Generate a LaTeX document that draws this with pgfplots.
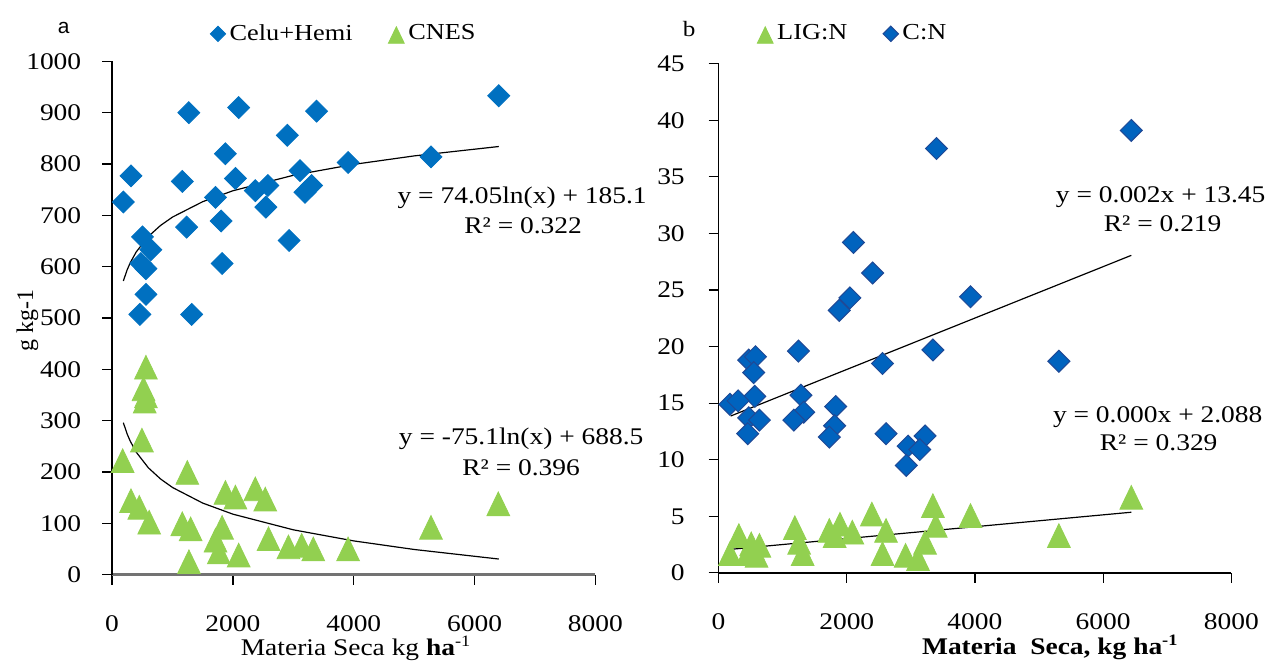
\documentclass[border=0pt]{standalone}
\usepackage{fontspec}
\setmainfont[FakeStretch=1.15]{Liberation Serif}
\newfontfamily\plainserif{Liberation Serif}
\newfontfamily\sansa{Liberation Sans}
\usepackage{pgfplots}
\pgfplotsset{compat=1.18}
\definecolor{cblue}{RGB}{0,112,192}
\definecolor{cblueb}{RGB}{0,99,190}
\definecolor{cblueedge}{RGB}{31,73,150}
\definecolor{cgreen}{RGB}{146,208,80}

\pgfplotstableread{
x y
186 726
313 777
1270 900
2095 910
3385 903
6400 933
2900 856
1876 820
1162 766
2041 772
3906 803
5278 814
3110 787
3302 758
3193 745
2578 758
2370 748
1712 735
2545 716
1234 677
1805 689
2930 651
1821 606
504 658
641 633
477 606
560 596
560 546
460 507
1317 507
}\celu

\pgfplotstableread{
x y
560 404
520 362
560 348
540 338
494 262
175 222
1245 199
313 144
450 131
614 102
1162 99
1300 89
1272 25
1876 160
2041 151
2370 167
2535 147
1821 92
1712 67
1766 44
2095 38
2589 70
2919 54
3138 57
3330 50
3906 50
5278 92
6392 138
}\cnes

\pgfplotstableread{
x y
186 572.1
250 593.9
300 607.5
400 628.8
600 658.8
800 680.1
1000 696.6
1500 726.6
2000 747.9
3000 778.0
4000 799.3
5000 815.8
6400 834.1
}\celufit

\pgfplotstableread{
x y
186 296.0
250 273.8
300 260.1
400 238.5
600 208.1
800 186.5
1000 169.7
1500 139.3
2000 117.7
3000 87.2
4000 65.6
5000 48.9
6400 30.3
}\cnesfit

\pgfplotstableread{
x y
6440 39.1
3400 37.5
2104 29.2
2403 26.5
3931 24.4
2049 24.3
1883 23.2
1246 19.6
3344 19.7
5310 18.7
2558 18.5
471 18.8
576 19.1
548 17.7
565 15.6
177 14.9
305 15.2
1285 15.7
1329 14.2
1174 13.5
1827 14.7
1811 13.0
1728 12.0
471 13.7
637 13.5
454 12.3
2613 12.3
3222 12.1
2957 11.2
3139 10.9
2929 9.5
}\cn

\pgfplotstableread{
x y
6440 6.68
5310 3.3
3931 5.07
3344 5.95
3389 4.2
3222 2.7
3112 1.26
2918 1.55
2558 1.7
2613 3.75
2392 5.2
2087 3.6
1894 4.3
1811 3.3
1728 3.75
1190 4.0
1257 2.7
1312 1.7
316 3.3
177 1.7
509 2.57
637 2.43
454 1.7
592 1.55
}\lign

\pgfplotsset{
  mystyle/.style={
    scale only axis,
    axis lines*=left,
    tick align=outside,
    major tick length=5pt,
    xmin=0,xmax=8000,
    xtick={0,2000,4000,6000,8000},
    scaled ticks=false,
    /pgf/number format/1000 sep={},
    /pgf/number format/assume math mode=true,
    ticklabel style={font=\fontsize{12}{14}\selectfont},
    xticklabel style={yshift=-12pt},
    tick style={black,line width=0.6pt},
    clip=false,
    legend image code/.code={\draw[##1,/tikz/every mark/.append style={scale=0.7}] plot coordinates {(0pt,0pt)};},
    legend style={draw=none, fill=none, inner sep=0pt,
      font=\fontsize{11.5}{13}\selectfont,
      /tikz/every even column/.append style={column sep=16pt}},
    legend columns=-1,
  },
  diam/.style={only marks, mark=square*, mark size=3.9pt, mark options={rotate=45, fill=#1, draw=#1}},
  diamb/.style={only marks, mark=square*, mark size=3.9pt, mark options={rotate=45, fill=cblueb, draw=cblueedge, line width=0.5pt}},
  tri/.style={only marks, mark=triangle*, mark size=6.6pt, mark options={yshift=-2pt, yscale=1.2, fill=cgreen, draw=cgreen}},
  fit/.style={black, line width=0.6pt, no marks, forget plot},
}

\begin{document}
\begin{tikzpicture}
\begin{scope}[x=0.5pt,y=-0.5pt]
\path[use as bounding box] (0,0) rectangle (1272,666);
\end{scope}

\begin{axis}[mystyle, at={(56.35pt,-288.85pt)}, anchor=south west,
  width=243pt, height=258pt,
  ymin=0, ymax=1000, ytick={0,100,...,1000},
  yticklabel style={xshift=-7pt},
  x axis line style={gray!90!black, line width=1.1pt},
  y axis line style={black, line width=0.8pt},
  legend style={at={(axis description cs:0.2023,1.0537)}, anchor=west},
]
\addplot[diam=cblue] table {\celu};
\addlegendentry{Celu+Hemi}
\addplot[tri] table {\cnes};
\addlegendentry{CNES}
\addplot[fit] table {\celufit};
\addplot[fit] table {\cnesfit};
\end{axis}

\begin{axis}[mystyle, at={(361.25pt,-288pt)}, anchor=south west,
  width=257.75pt, height=256pt,
  ymin=0, ymax=45, ytick={0,5,...,45},
  yticklabel style={xshift=-8.5pt},
  axis line style={black, line width=0.8pt},
  legend style={at={(axis description cs:0.0747,1.0586)}, anchor=west},
]
\addplot[tri] table {\lign};
\addlegendentry{LIG:N}
\addplot[diamb] table {\cn};
\addlegendentry{C:N}
\addplot[fit] coordinates {(188,13.86) (6440,28.06)};
\addplot[fit] coordinates {(188,2.08) (6440,5.36)};
\end{axis}

\begin{scope}[x=0.5pt,y=-0.5pt]
\node[font=\sansa\fontsize{10.5}{12}\selectfont] at (64,28) {a};
\node[font=\fontsize{11}{13}\selectfont] at (693,29) {b};
\node[anchor=base,font=\fontsize{12}{14}\selectfont] at (525,205) {y = 74.05ln(x) + 185.1};
\node[anchor=base,font=\fontsize{12}{14}\selectfont] at (526,235) {R² = 0.322};
\node[anchor=base,font=\fontsize{12}{14}\selectfont] at (524,447) {y = -75.1ln(x) + 688.5};
\node[anchor=base,font=\fontsize{12}{14}\selectfont] at (524,478) {R² = 0.396};
\node[anchor=base,font=\fontsize{12}{14}\selectfont] at (1167,204) {y = 0.002x + 13.45};
\node[anchor=base,font=\fontsize{12}{14}\selectfont] at (1169,233) {R² = 0.219};
\node[anchor=base,font=\fontsize{12}{14}\selectfont] at (1164,425) {y = 0.000x + 2.088};
\node[anchor=base,font=\fontsize{12}{14}\selectfont] at (1165,453) {R² = 0.329};
\node[rotate=90,font=\plainserif\fontsize{12}{14}\selectfont] at (27.5,322) {g kg-1};
\node[anchor=base,font=\fontsize{12}{14}\selectfont] at (358,659) {Materia Seca kg \textbf{ha}\textsuperscript{-1}};
\node[anchor=base,font=\fontsize{12}{14}\selectfont] at (1056,658) {\textbf{Materia\ \ Seca, kg ha\textsuperscript{-1}}};
\end{scope}
\end{tikzpicture}
\end{document}
